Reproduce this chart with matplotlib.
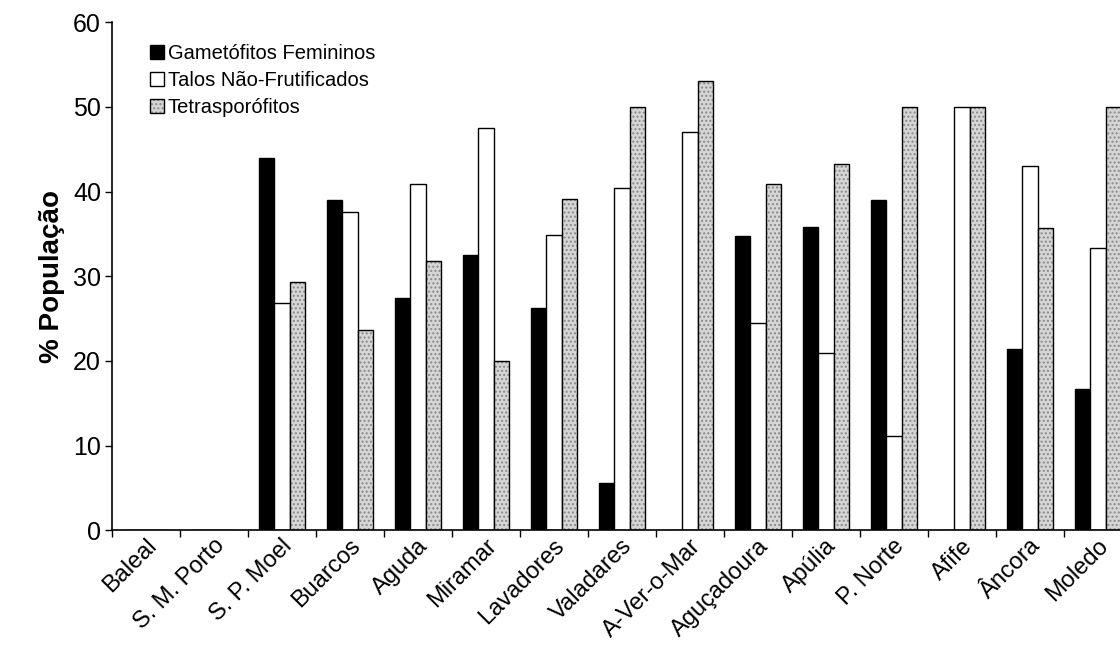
import matplotlib
matplotlib.use("Agg")
import matplotlib.pyplot as plt
import matplotlib.transforms as mtransforms
import numpy as np
from matplotlib.patches import Patch

plt.rcParams['font.family'] = ['Liberation Sans', 'DejaVu Sans']

# praias (norte de Portugal)
locais = ['Baleal', 'S. M. Porto', 'S. P. Moel', 'Buarcos', 'Aguda', 'Miramar',
          'Lavadores', 'Valadares', 'A-Ver-o-Mar', 'Aguçadoura', 'Apúlia',
          'P. Norte', 'Afife', 'Âncora', 'Moledo']

# % da populacao em cada fase
gametofitos = [0, 0, 44.0, 39.0, 27.4, 32.5, 26.2, 5.6, 0, 34.7, 35.8, 39.0, 0, 21.4, 16.7]
talos_nf = [0, 0, 26.8, 37.6, 40.9, 47.5, 34.9, 40.4, 47.0, 24.5, 20.9, 11.1, 50.0, 43.0, 33.3]
tetrasporofitos = [0, 0, 29.3, 23.6, 31.8, 20.0, 39.1, 50.0, 53.1, 40.9, 43.3, 50.0, 50.0, 35.7, 50.0]

x = np.arange(len(locais))
w = 0.225

fig = plt.figure(figsize=(11.2, 6.45), dpi=100)
ax = fig.add_axes([0.1, 0.178, 0.9107, 0.7876])

ax.bar(x - w, gametofitos, w, color='black', edgecolor='black', linewidth=1)
ax.bar(x, talos_nf, w, color='white', edgecolor='black', linewidth=1)
# padrao quadriculado cinzento
ax.bar(x + w, tetrasporofitos, w, color='#d6d6d6', edgecolor='#8a8a8a',
       hatch='....', linewidth=0)
ax.bar(x + w, tetrasporofitos, w, color='none', edgecolor='black', linewidth=1)

ax.set_xlim(-0.5, len(locais) - 0.5)
ax.set_ylim(0, 60)
ax.set_yticks(range(0, 61, 10))
ax.tick_params(axis='y', labelsize=18, length=5, width=1, direction='out', pad=3)

ax.set_xticks(x)
ax.set_xticklabels(locais, rotation=45, ha='right', va='center',
                   rotation_mode='anchor', fontsize=17)
ax.set_xticks(np.arange(-0.5, len(locais), 1), minor=True)
ax.tick_params(axis='x', which='major', length=0, pad=9)
ax.tick_params(axis='x', which='minor', length=5, width=1, direction='out')
# empurrar os rotulos um pouco para a direita
desloc = mtransforms.ScaledTranslation(7 / 100, 0, fig.dpi_scale_trans)
for lab in ax.get_xticklabels():
    lab.set_transform(lab.get_transform() + desloc)

ax.spines['top'].set_visible(False)
ax.spines['right'].set_visible(False)
ax.spines['left'].set_linewidth(1.2)
ax.spines['bottom'].set_linewidth(1.2)

ax.set_ylabel('% População', fontsize=20, fontweight='bold', labelpad=6)

h1 = Patch(facecolor='black', edgecolor='black')
h2 = Patch(facecolor='white', edgecolor='black')
h3 = (Patch(facecolor='#d6d6d6', edgecolor='#8a8a8a', hatch='....', linewidth=0),
      Patch(facecolor='none', edgecolor='black'))
ax.legend([h1, h2, h3], ['Gametófitos Femininos', 'Talos Não-Frutificados', 'Tetrasporófitos'],
          loc='upper left', bbox_to_anchor=(0.029, 0.973), frameon=False, fontsize=14.5,
          handlelength=0.7, handleheight=0.7, handletextpad=0.2, labelspacing=0.4,
          borderaxespad=0)

fig.savefig('out.png', dpi=100)
